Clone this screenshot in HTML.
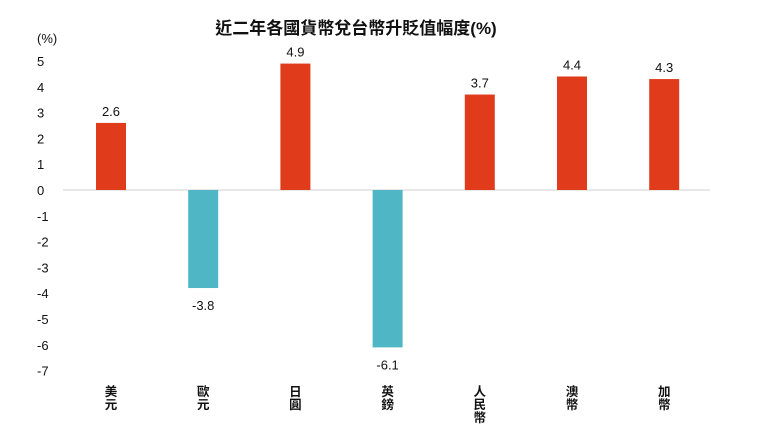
<!DOCTYPE html>
<html><head><meta charset="utf-8"><style>
html,body{margin:0;padding:0;background:#fff;}
svg text{font-family:"Liberation Sans","Noto Sans CJK TC",sans-serif;fill:#111;}
</style></head><body>
<svg id="chart" width="760" height="440" viewBox="0 0 760 440" xmlns="http://www.w3.org/2000/svg">
<text x="356" y="34" text-anchor="middle" font-size="17" font-weight="bold">近二年各國貨幣兌台幣升貶值幅度(%)</text>
<text x="37" y="43" font-size="13">(%)</text>
<g id="yticks"></g>
<line x1="63" y1="190" x2="710" y2="190" stroke="#d0d0d0" stroke-width="1"/>
<g id="bars"></g>
</svg>
<script>
const categories=[["美","元"],["歐","元"],["日","圓"],["英","鎊"],["人","民","幣"],["澳","幣"],["加","幣"]];
const values=[2.6,-3.8,4.9,-6.1,3.7,4.4,4.3];
const labels=["2.6","-3.8","4.9","-6.1","3.7","4.4","4.3"];
const ticks=[5,4,3,2,1,0,-1,-2,-3,-4,-5,-6,-7];
const NS="http://www.w3.org/2000/svg";
function y(v){return 190-v*25.8;}
function x(i){return 111+i*92.2;}
const yt=document.getElementById('yticks');
ticks.forEach(t=>{const e=document.createElementNS(NS,'text');


e.setAttribute('x',37);e.setAttribute('y',y(t)+5);e.setAttribute('font-size','13');e.textContent=t;yt.appendChild(e);});
const g=document.getElementById('bars');
values.forEach((v,i)=>{
const r=document.createElementNS(NS,'rect');


const top=Math.min(y(v),y(0)),h=Math.abs(y(v)-y(0));
r.setAttribute('x',x(i)-15);r.setAttribute('y',top);r.setAttribute('width',30);r.setAttribute('height',h);
r.setAttribute('fill',v>=0?'#e03c1c':'#4fb6c6');g.appendChild(r);
const t=document.createElementNS(NS,'text');


t.setAttribute('x',x(i));t.setAttribute('y',v>=0?y(v)-7:y(v)+22);t.setAttribute('text-anchor','middle');t.setAttribute('font-size','13');t.textContent=labels[i];g.appendChild(t);
categories[i].forEach((c,j)=>{const ct=document.createElementNS(NS,'text');


ct.setAttribute('x',x(i));ct.setAttribute('y',396+j*13);ct.setAttribute('text-anchor','middle');ct.setAttribute('font-size','12.5');ct.setAttribute('font-weight','bold');ct.textContent=c;g.appendChild(ct);});
});
</script>
</body></html>
